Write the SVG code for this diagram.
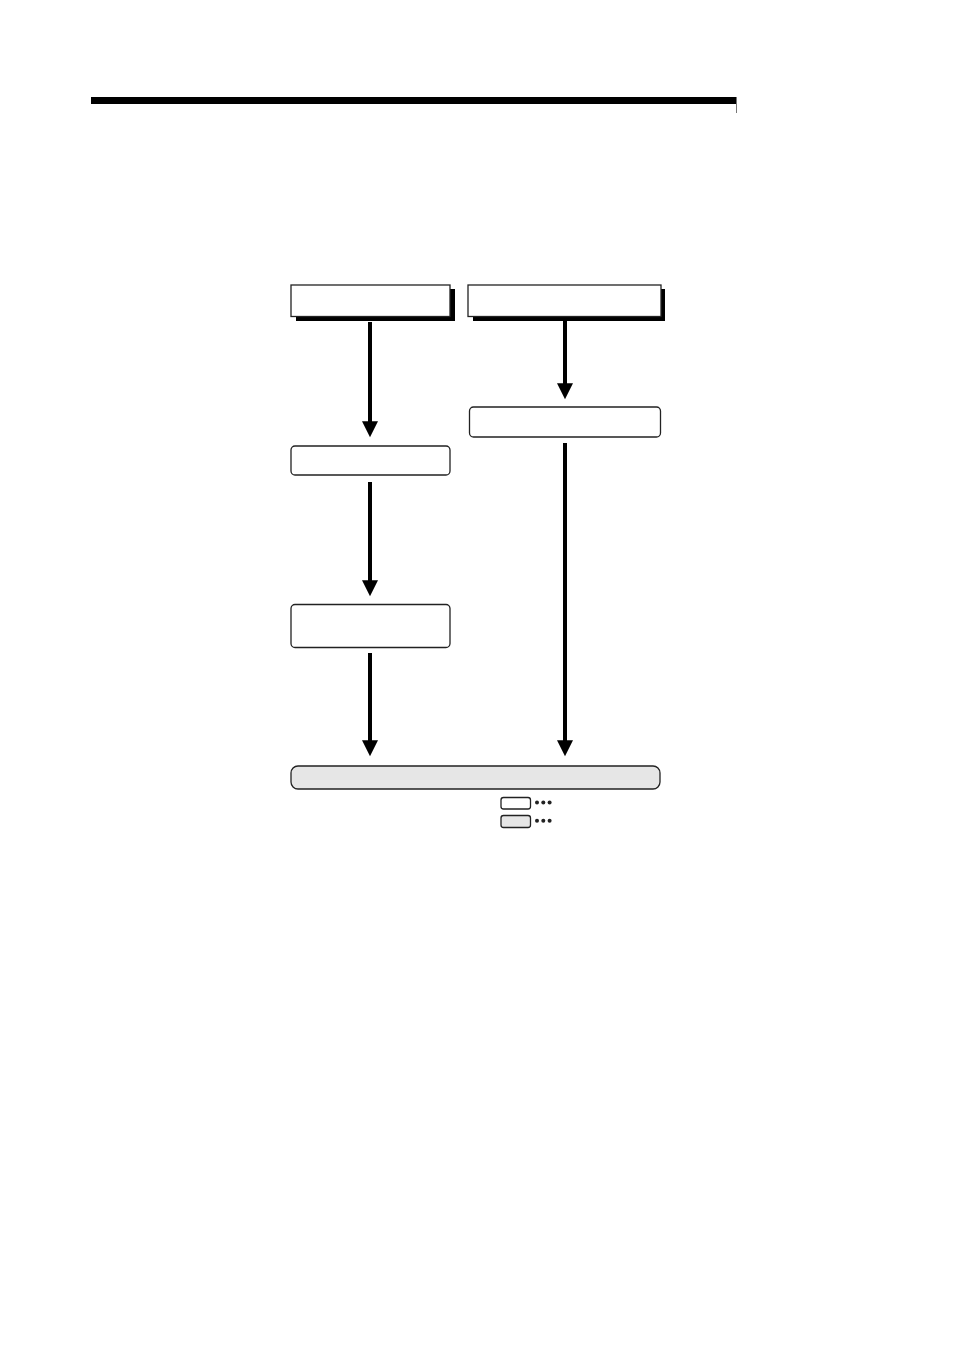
<svg xmlns="http://www.w3.org/2000/svg" width="954" height="1351" viewBox="0 0 954 1351">
<defs>
<style>
.box{fill:#fff;stroke:#222;stroke-width:1.3}
.gray{fill:#e6e6e6;stroke:#222;stroke-width:1.3}
.shadow{fill:#000}
.conn{stroke:#000;stroke-width:4;fill:none}
.dot{fill:#222}
</style>
<marker id="ah" markerWidth="4" markerHeight="4" refX="0.2" refY="2" orient="auto" markerUnits="strokeWidth" overflow="visible">
<path d="M0,0 L4,2 L0,4 Z" fill="#000"/>
</marker>
</defs>
<rect width="954" height="1351" fill="#fff"/>
<g id="header">
<rect x="91" y="97" width="645" height="7" fill="#000"/>
<line x1="736.5" y1="97" x2="736.5" y2="113" stroke="#777" stroke-width="1"/>
</g>
<g id="connectors">
<line class="conn" x1="370" y1="322" x2="370" y2="422" marker-end="url(#ah)"/>
<line class="conn" x1="565" y1="320" x2="565" y2="384" marker-end="url(#ah)"/>
<line class="conn" x1="370" y1="482" x2="370" y2="581" marker-end="url(#ah)"/>
<line class="conn" x1="370" y1="653" x2="370" y2="741" marker-end="url(#ah)"/>
<line class="conn" x1="565" y1="443" x2="565" y2="741" marker-end="url(#ah)"/>
</g>
<g id="node1">
<rect class="shadow" x="296" y="289" width="159" height="32"/>
<rect class="box" x="291" y="285" width="159" height="31.5"/>
</g>
<g id="node2">
<rect class="shadow" x="473" y="289" width="192" height="32"/>
<rect class="box" x="468" y="285" width="193" height="31.5"/>
</g>
<g id="node3">
<rect class="box" x="469.5" y="407" width="191" height="30" rx="4"/>
</g>
<g id="node4">
<rect class="box" x="291" y="446" width="159" height="29" rx="4"/>
</g>
<g id="node5">
<rect class="box" x="291" y="604.5" width="159" height="43" rx="4"/>
</g>
<g id="node6">
<rect class="gray" x="291" y="766" width="369" height="23" rx="7"/>
</g>
<g id="legend">
<rect class="box" x="501" y="797.5" width="29.5" height="11.5" rx="2.5"/>
<circle class="dot" cx="537" cy="802.5" r="2"/>
<circle class="dot" cx="543.3" cy="802.5" r="2"/>
<circle class="dot" cx="549.6" cy="802.5" r="2"/>
<rect class="gray" x="501" y="815.5" width="29.5" height="12" rx="2.5"/>
<circle class="dot" cx="537" cy="820.8" r="2"/>
<circle class="dot" cx="543.3" cy="820.8" r="2"/>
<circle class="dot" cx="549.6" cy="820.8" r="2"/>
</g>
</svg>
